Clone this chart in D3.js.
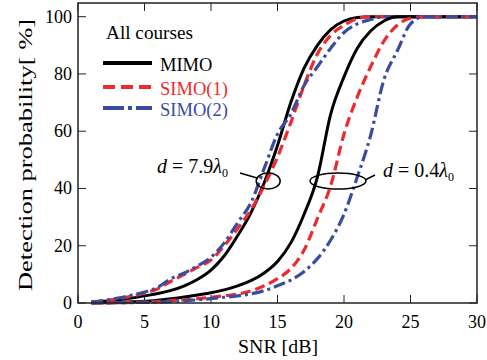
<!DOCTYPE html>
<html>
<head>
<meta charset="utf-8">
<script src="https://cdn.jsdelivr.net/npm/d3@7"></script>
<style>
  body { margin: 0; background: #fff; }
  svg text { font-family: "Liberation Serif", "DejaVu Serif", serif; }
</style>
</head>
<body>
<script>
// SNR axis values [dB]
const snr = [1,2,3,4,5,6,7,8,9,10,11,12,13,14,15,16,17,18,19,20,21,22,23,24,25,26,27,28,29,30]

// detection probability [%], d = 7.9 lambda0
const mimoFar  = [0.3,0.6,1.1,1.7,2.5,3.3,4.4,6.0,8.3,11.5,16.5,23.5,31.5,42,55,70,82,90,95.5,98.5,99.7,100,100,100,100,100,100,100,100,100]
const simo1Far = [0.3,0.8,1.5,2.4,3.4,5.0,7.6,10,12.5,15,20,26,32.5,41,51,63,76,87,93.5,97,99.3,100,100,100,100,100,100,100,100,100]
const simo2Far = [0.3,0.9,1.7,2.7,3.8,5.5,8.5,10.5,13,16,21,28,35,47,59,66,76,82.5,89,94.5,97.5,99,100,100,100,100,100,100,100,100]

// detection probability [%], d = 0.4 lambda0
const mimoNear  = [0,0.1,0.2,0.4,0.6,1.0,1.5,2.1,2.8,3.6,4.6,6,7.8,10.5,14.5,21,31,44,66,79,89,95,98.5,100,100,100,100,100,100,100]
const simo1Near = [0,0.05,0.1,0.2,0.3,0.5,0.8,1.1,1.5,2.0,2.5,3.1,4.2,6,8.5,12,18.5,29.5,41,59,72,82.5,91.5,97,99.5,100,100,100,100,100]
const simo2Near = [0,0.05,0.1,0.15,0.2,0.3,0.5,0.8,1.1,1.5,2.0,2.5,3.2,4.3,6,8,11,15.5,22,31,44,58.5,78,88,97.5,100,100,100,100,100]

const seriesNames = ['MIMO', 'SIMO(1)', 'SIMO(2)']
const xTicks = [0,5,10,15,20,25,30]
const yTicks = [0,20,40,60,80,100]

const WIDTH = 487
const HEIGHT = 360
const LEFT = 78, RIGHT = 477, TOP = 3, BOTTOM = 303

const colors = ['#000000', '#ee2a2e', '#3a4c9f']
const dashes = [null, '10,5', '12,4,3,4']

const svg = d3.select('body').append('svg')
  .attr('width', WIDTH)
  .attr('height', HEIGHT)

const x = d3.scaleLinear().domain([0, 30]).range([LEFT, RIGHT])
const y = d3.scaleLinear().domain([0, 100]).range([BOTTOM, 16.7])

// ticks, pointing inwards on all four sides
const tickLen = 8
const ticks = svg.append('g').attr('stroke', '#222').attr('stroke-width', 1)
xTicks.forEach(t => {
  ticks.append('line').attr('x1', x(t)).attr('x2', x(t)).attr('y1', BOTTOM).attr('y2', BOTTOM - tickLen)
  ticks.append('line').attr('x1', x(t)).attr('x2', x(t)).attr('y1', TOP).attr('y2', TOP + tickLen)
})
yTicks.forEach(t => {
  ticks.append('line').attr('x1', LEFT).attr('x2', LEFT + tickLen).attr('y1', y(t)).attr('y2', y(t))
  ticks.append('line').attr('x1', RIGHT).attr('x2', RIGHT - tickLen).attr('y1', y(t)).attr('y2', y(t))
})

svg.selectAll('.xlab')
  .data(xTicks)
  .enter()
  .append('text')
  .attr('x', d => x(d))
  .attr('y', 328)
  .attr('text-anchor', 'middle')
  .attr('font-size', 18)
  .text(d => d)

svg.selectAll('.ylab')
  .data(yTicks)
  .enter()
  .append('text')
  .attr('x', 72)
  .attr('y', d => y(d) + 6)
  .attr('text-anchor', 'end')
  .attr('font-size', 18)
  .text(d => d)

svg.append('text')
  .attr('x', 278)
  .attr('y', 353)
  .attr('text-anchor', 'middle')
  .attr('font-size', 19)
  .attr('textLength', 80)
  .attr('lengthAdjust', 'spacingAndGlyphs')
  .text('SNR [dB]')

svg.append('text')
  .attr('transform', 'translate(32,155) rotate(-90)')
  .attr('text-anchor', 'middle')
  .attr('font-size', 19)
  .attr('textLength', 272)
  .attr('lengthAdjust', 'spacingAndGlyphs')
  .text('Detection probability[ %]')

// curves
const line = d3.line()
  .x((d, i) => x(snr[i]))
  .y(d => y(d))
  .curve(d3.curveMonotoneX)

const groups = [[mimoFar, simo1Far, simo2Far], [mimoNear, simo1Near, simo2Near]]
const plot = svg.append('g')
groups.forEach(g => {
  g.forEach((values, k) => {
    plot.append('path')
      .attr('d', line(values))
      .attr('fill', 'none')
      .attr('stroke', colors[k])
      .attr('stroke-width', k === 0 ? 3 : 3.2)
      .attr('stroke-dasharray', dashes[k])
  })
})

// frame
svg.append('rect')
  .attr('x', LEFT).attr('y', TOP)
  .attr('width', RIGHT - LEFT).attr('height', BOTTOM - TOP)
  .attr('fill', 'none')
  .attr('stroke', '#222')
  .attr('stroke-width', 1.5)

// legend
svg.append('text')
  .attr('x', 106).attr('y', 39)
  .attr('font-size', 18)
  .attr('textLength', 87)
  .attr('lengthAdjust', 'spacingAndGlyphs')
  .text('All courses')

const legendY = [63, 87, 108]
seriesNames.forEach((name, k) => {
  svg.append('line')
    .attr('x1', 103).attr('x2', 152)
    .attr('y1', legendY[k]).attr('y2', legendY[k])
    .attr('stroke', colors[k])
    .attr('stroke-width', 4)
    .attr('stroke-dasharray', k === 1 ? '12,6' : k === 2 ? '21,4,4,4' : null)
  svg.append('text')
    .attr('x', 160).attr('y', legendY[k] + 8)
    .attr('font-size', 18.5)
    .attr('fill', colors[k])
    .text(name)
})

// annotations: ellipses around the curve groups
function label(tx, ty, value) {
  const t = svg.append('text').attr('x', tx).attr('y', ty).attr('font-size', 20)
  t.append('tspan').attr('font-style', 'italic').text('d')
  t.append('tspan').text(' = ' + value)
  t.append('tspan').attr('font-style', 'italic').text('λ')
  t.append('tspan').attr('font-size', 12).attr('dy', 4).text('0')
}

const ann = svg.append('g').attr('fill', 'none').attr('stroke', '#000').attr('stroke-width', 1.5)
ann.append('ellipse').attr('cx', x(14.3)).attr('cy', y(42.6)).attr('rx', 12).attr('ry', 8)
ann.append('ellipse').attr('cx', x(19.55)).attr('cy', y(42.6)).attr('rx', 28).attr('ry', 8)
ann.append('line').attr('x1', 240).attr('y1', 173).attr('x2', 257).attr('y2', 178)
ann.append('line').attr('x1', 365).attr('y1', 180).attr('x2', 375).attr('y2', 175)

label(157, 173, '7.9')
label(383, 177, '0.4')
</script>
</body>
</html>
